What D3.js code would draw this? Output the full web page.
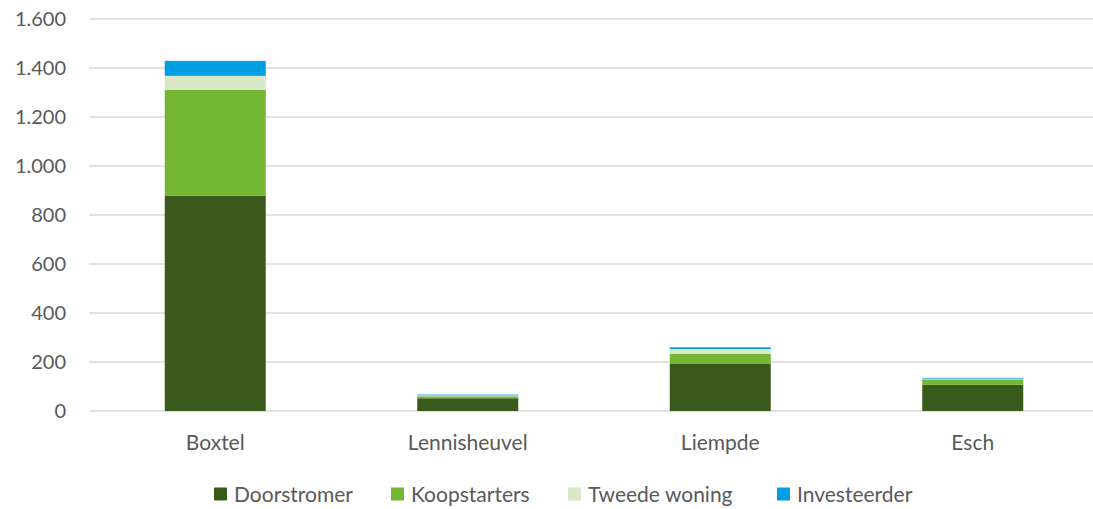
<!DOCTYPE html>
<html>
<head>
<meta charset="utf-8">
<script src="https://cdn.jsdelivr.net/npm/d3@7"></script>
<style>
  body { margin: 0; background: #fff; }
  svg { display: block; font-family: Lato, "Open Sans", sans-serif; }
</style>
</head>
<body>
<svg id="chart" width="1093" height="509"></svg>
<script>
// Kopers per kern, opgesplitst naar type koper
const categories = ["Boxtel", "Lennisheuvel", "Liempde", "Esch"];
const seriesNames = ["Doorstromer", "Koopstarters", "Tweede woning", "Investeerder"];
const doorstromer = [878, 52, 192, 107];
const koopstarters = [433, 8, 41, 22];
const tweedeWoning = [57, 4, 20, 3];
const investeerder = [61, 3, 7, 3];
const yTicks = [0, 200, 400, 600, 800, 1000, 1200, 1400, 1600];
const colors = ["#3a5a1c", "#74b634", "#d8e7c6", "#009fe3"];

const svg = d3.select("#chart");
const W = 1093;
const plotTop = 19, plotBottom = 411, plotLeft = 89, plotRight = 1099;

const rows = categories.map((c, i) => ({
  cat: c,
  "Doorstromer": doorstromer[i],
  "Koopstarters": koopstarters[i],
  "Tweede woning": tweedeWoning[i],
  "Investeerder": investeerder[i]
}));
const stacked = d3.stack().keys(seriesNames)(rows);

const x = d3.scaleBand().domain(categories).range([plotLeft, plotRight]).padding(0);
const y = d3.scaleLinear().domain([0, 1600]).range([plotBottom, plotTop]);
const barW = x.bandwidth() * 0.4;

// gridlines
svg.append("g")
  .selectAll("line")
  .data(yTicks)
  .join("line")
  .attr("x1", plotLeft).attr("x2", W)
  .attr("y1", d => y(d)).attr("y2", d => y(d))
  .attr("stroke", "#d9d9d9").attr("stroke-width", 1.3);

// y-axis labels
const fmt = d => d3.format(",")(d).replace(/,/g, ".");
svg.append("g")
  .selectAll("text")
  .data(yTicks)
  .join("text")
  .attr("x", 66).attr("y", d => y(d))
  .attr("dy", "0.36em")
  .attr("text-anchor", "end")
  .attr("font-size", 20)
  .attr("fill", "#595959")
  .text(fmt);

// stacked bars
svg.append("g")
  .selectAll("g")
  .data(stacked)
  .join("g")
  .attr("fill", (d, i) => colors[i])
  .selectAll("rect")
  .data(d => d)
  .join("rect")
  .attr("x", d => x(d.data.cat) + (x.bandwidth() - barW) / 2)
  .attr("width", barW)
  .attr("y", d => y(d[1]))
  .attr("height", d => y(d[0]) - y(d[1]));

// category labels
svg.append("g")
  .selectAll("text")
  .data(categories)
  .join("text")
  .attr("x", d => x(d) + x.bandwidth() / 2)
  .attr("y", 450)
  .attr("text-anchor", "middle")
  .attr("font-size", 21)
  .attr("fill", "#595959")
  .text(d => d);

// legend
const legendX = [214, 391, 568, 777];
const lg = svg.append("g")
  .selectAll("g")
  .data(seriesNames)
  .join("g")
  .attr("transform", (d, i) => `translate(${legendX[i]},494)`);
lg.append("rect")
  .attr("x", 0).attr("y", -6.5)
  .attr("width", 13).attr("height", 13)
  .attr("fill", (d, i) => colors[i]);
lg.append("text")
  .attr("x", 20).attr("y", 0)
  .attr("dy", "0.36em")
  .attr("font-size", 21)
  .attr("fill", "#595959")
  .text(d => d);
</script>
</body>
</html>
